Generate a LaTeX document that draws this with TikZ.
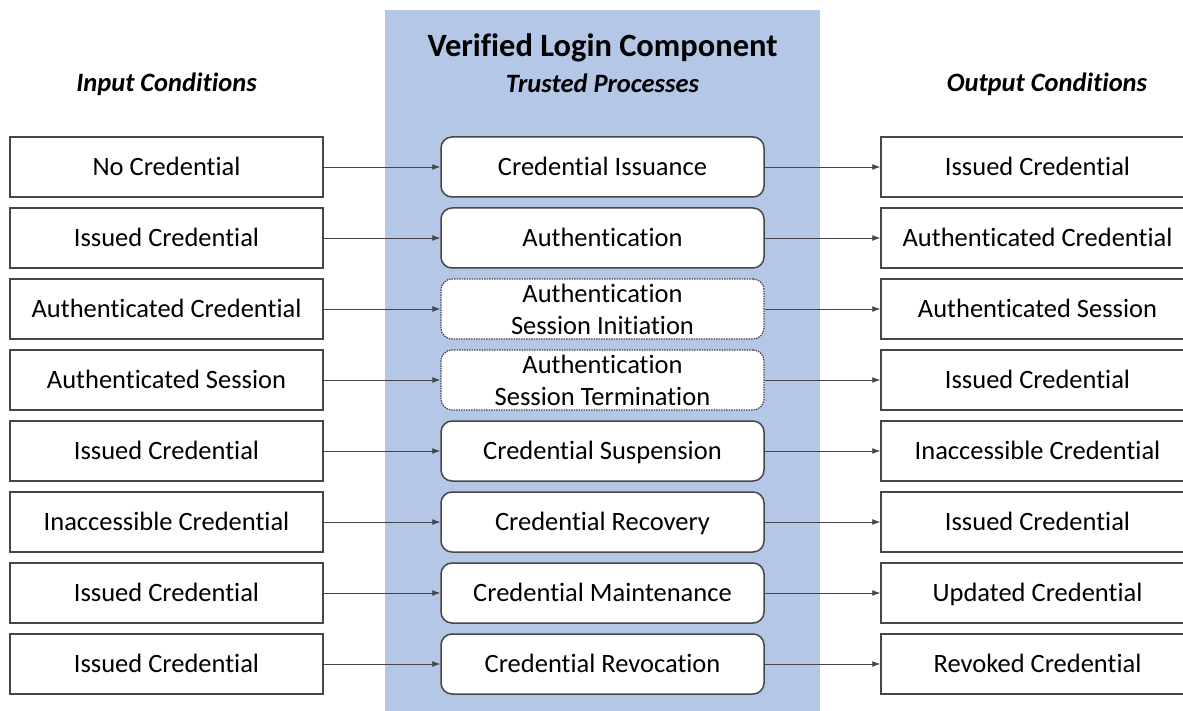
\documentclass[tikz,border=0pt]{standalone}
\usepackage{fontspec}
\setmainfont[Ligatures=NoCommon]{Carlito}
\usetikzlibrary{arrows.meta}
\definecolor{panelblue}{RGB}{180,199,231}
\definecolor{boxline}{RGB}{70,70,70}
\begin{document}
\begin{tikzpicture}[x=1pt, y=-1pt,
    box/.style={draw=boxline, line width=1.5pt, fill=white, minimum width=313pt,
        minimum height=60pt, inner sep=0pt},
    cond/.style={box, text height=24pt, text depth=7pt,
        font=\fontsize{26.5}{31}\selectfont},
    proc/.style={cond, rounded corners=11pt, minimum width=323pt},
    dotproc/.style={box, rounded corners=11pt, minimum width=323pt, align=center,
        font=\fontsize{26.5}{32}\selectfont, densely dotted, line width=1.2pt},
    head/.style={anchor=base, font=\fontsize{26.5}{31}\selectfont\bfseries\itshape},
    link/.style={draw=boxline, line width=0.9pt, -{Latex[length=8pt, width=6pt]}}]
    \useasboundingbox (0, 0) rectangle (1183, 711);
    % Draw panel
    \fill[panelblue] (385, 10) rectangle (820, 711);

    % Draw headings
    \node[head] (inhead) at (166.5, 92) {Input Conditions};
    \node[anchor=base, font=\fontsize{32.5}{38}\selectfont\bfseries] (title) at (602.5, 57) {Verified Login Component};
    \node[head] (prochead) at (602.5, 93) {Trusted Processes};
    \node[head] (outhead) at (1047, 92) {Output Conditions};

    % Draw input nodes
    \node[cond] (i1) at (166.5, 167) {No Credential};
    \node[cond] (i2) at (166.5, 238) {Issued Credential};
    \node[cond] (i3) at (166.5, 309) {Authenticated Credential};
    \node[cond] (i4) at (166.5, 380) {Authenticated Session};
    \node[cond] (i5) at (166.5, 451) {Issued Credential};
    \node[cond] (i6) at (166.5, 522) {Inaccessible Credential};
    \node[cond] (i7) at (166.5, 593) {Issued Credential};
    \node[cond] (i8) at (166.5, 664) {Issued Credential};

    % Draw process nodes
    \node[proc] (p1) at (602.5, 167) {Credential Issuance};
    \node[proc] (p2) at (602.5, 238) {Authentication};
    \node[dotproc] (p3) at (602.5, 309) {Authentication\\Session Initiation};
    \node[dotproc] (p4) at (602.5, 380) {Authentication\\Session Termination};
    \node[proc] (p5) at (602.5, 451) {Credential Suspension};
    \node[proc] (p6) at (602.5, 522) {Credential Recovery};
    \node[proc] (p7) at (602.5, 593) {Credential Maintenance};
    \node[proc] (p8) at (602.5, 664) {Credential Revocation};

    % Draw output nodes
    \node[cond] (o1) at (1037.5, 167) {Issued Credential};
    \node[cond] (o2) at (1037.5, 238) {Authenticated Credential};
    \node[cond] (o3) at (1037.5, 309) {Authenticated Session};
    \node[cond] (o4) at (1037.5, 380) {Issued Credential};
    \node[cond] (o5) at (1037.5, 451) {Inaccessible Credential};
    \node[cond] (o6) at (1037.5, 522) {Issued Credential};
    \node[cond] (o7) at (1037.5, 593) {Updated Credential};
    \node[cond] (o8) at (1037.5, 664) {Revoked Credential};

    % Draw edges
    \draw[link] (i1) -- (p1);
    \draw[link] (i2) -- (p2);
    \draw[link] (i3) -- (p3);
    \draw[link] (i4) -- (p4);
    \draw[link] (i5) -- (p5);
    \draw[link] (i6) -- (p6);
    \draw[link] (i7) -- (p7);
    \draw[link] (i8) -- (p8);
    \draw[link] (p1) -- (o1);
    \draw[link] (p2) -- (o2);
    \draw[link] (p3) -- (o3);
    \draw[link] (p4) -- (o4);
    \draw[link] (p5) -- (o5);
    \draw[link] (p6) -- (o6);
    \draw[link] (p7) -- (o7);
    \draw[link] (p8) -- (o8);
\end{tikzpicture}
\end{document}
